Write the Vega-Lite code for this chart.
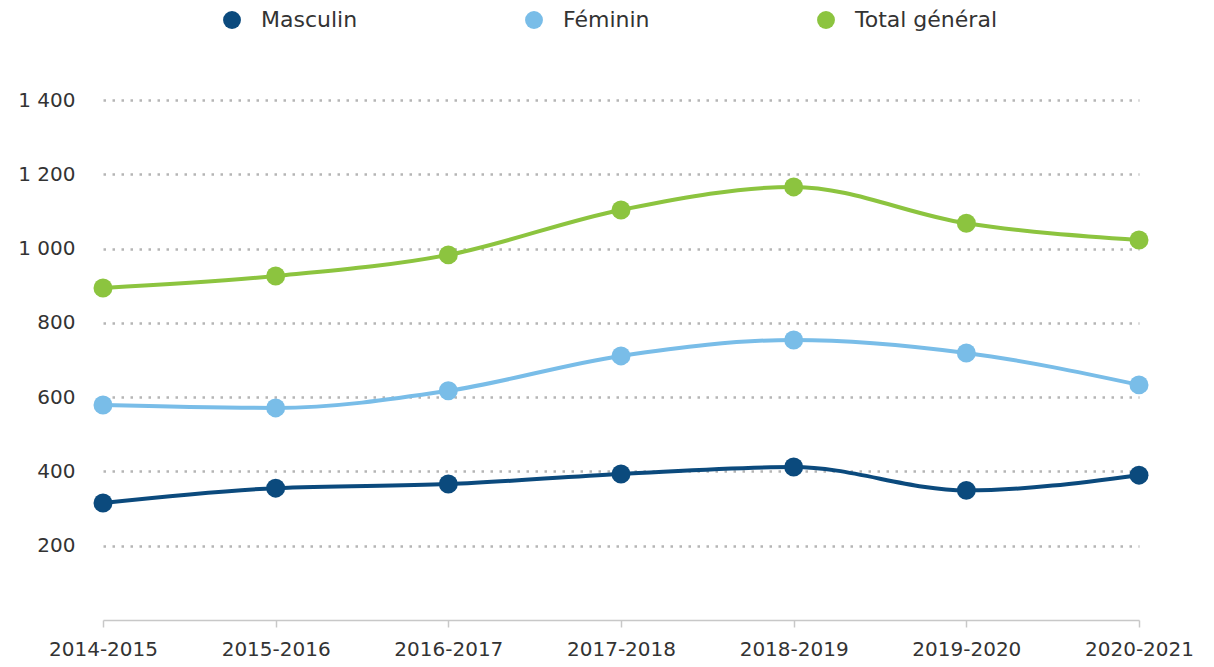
{
  "$schema": "https://vega.github.io/schema/vega-lite/v6.json",
  "width": 1036,
  "height": 520,
  "autosize": {"type": "none"},
  "padding": {"left": 103, "top": 100, "right": 75, "bottom": 47},
  "background": "white",
  "config": {
    "font": "DejaVu Sans",
    "view": {"stroke": null}
  },
  "data": {
    "values": [
      {"annee": "2014-2015", "serie": "Masculin", "valeur": 315},
      {"annee": "2015-2016", "serie": "Masculin", "valeur": 355},
      {"annee": "2016-2017", "serie": "Masculin", "valeur": 366},
      {"annee": "2017-2018", "serie": "Masculin", "valeur": 393},
      {"annee": "2018-2019", "serie": "Masculin", "valeur": 412},
      {"annee": "2019-2020", "serie": "Masculin", "valeur": 349},
      {"annee": "2020-2021", "serie": "Masculin", "valeur": 390},
      {"annee": "2014-2015", "serie": "Féminin", "valeur": 579},
      {"annee": "2015-2016", "serie": "Féminin", "valeur": 571},
      {"annee": "2016-2017", "serie": "Féminin", "valeur": 617},
      {"annee": "2017-2018", "serie": "Féminin", "valeur": 711},
      {"annee": "2018-2019", "serie": "Féminin", "valeur": 754},
      {"annee": "2019-2020", "serie": "Féminin", "valeur": 719},
      {"annee": "2020-2021", "serie": "Féminin", "valeur": 633},
      {"annee": "2014-2015", "serie": "Total général", "valeur": 894},
      {"annee": "2015-2016", "serie": "Total général", "valeur": 926},
      {"annee": "2016-2017", "serie": "Total général", "valeur": 983},
      {"annee": "2017-2018", "serie": "Total général", "valeur": 1104},
      {"annee": "2018-2019", "serie": "Total général", "valeur": 1166},
      {"annee": "2019-2020", "serie": "Total général", "valeur": 1068},
      {"annee": "2020-2021", "serie": "Total général", "valeur": 1023}
    ]
  },
  "encoding": {
    "x": {
      "field": "annee",
      "type": "ordinal",
      "scale": {"type": "point", "padding": 0},
      "axis": {
        "title": null,
        "labelAngle": 0,
        "labelFontSize": 20,
        "labelColor": "#333333",
        "labelPadding": 12,
        "domainColor": "#c8c8c8",
        "domainWidth": 1.5,
        "tickColor": "#c8c8c8",
        "tickSize": 7,
        "tickWidth": 1.5,
        "grid": false
      }
    },
    "y": {
      "field": "valeur",
      "type": "quantitative",
      "scale": {"domain": [0, 1400], "nice": false},
      "axis": {
        "title": null,
        "values": [200, 400, 600, 800, 1000, 1200, 1400],
        "labelExpr": "replace(format(datum.value, ','), ',', ' ')",
        "labelFontSize": 20,
        "labelColor": "#333333",
        "labelPadding": 28,
        "domain": false,
        "ticks": false,
        "grid": true,
        "gridColor": "#b5b5b5",
        "gridWidth": 2.5,
        "gridDash": [2.5, 6.5]
      }
    },
    "color": {
      "field": "serie",
      "type": "nominal",
      "scale": {
        "domain": ["Masculin", "Féminin", "Total général"],
        "range": ["#0b4a7d", "#79bde8", "#8cc43f"]
      },
      "legend": {
        "title": null,
        "orient": "none",
        "direction": "horizontal",
        "legendX": 118,
        "legendY": -91,
        "symbolType": "circle",
        "symbolSize": 320,
        "symbolStrokeWidth": 0,
        "labelFontSize": 22,
        "labelColor": "#333333",
        "labelOffset": 18,
        "columnPadding": 165,
        "labelLimit": 300
      }
    }
  },
  "layer": [
    {
      "mark": {"type": "line", "interpolate": "monotone", "strokeWidth": 4}
    },
    {
      "mark": {"type": "point", "filled": true, "opacity": 1, "size": 360}
    }
  ]
}
